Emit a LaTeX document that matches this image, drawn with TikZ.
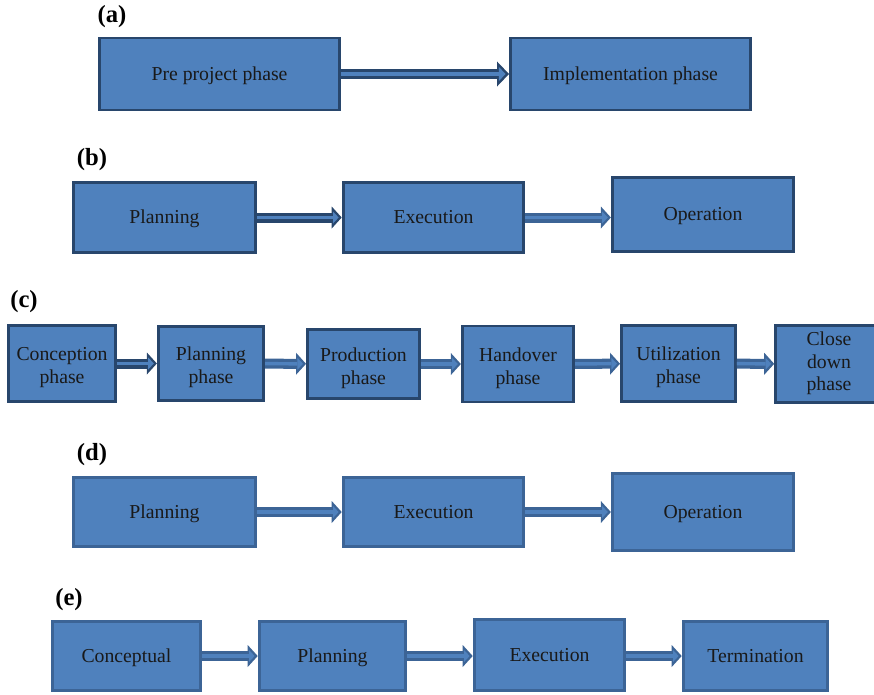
\documentclass[tikz,border=0pt]{standalone}
\usepackage{fontspec}
\setmainfont{Liberation Serif}
\usetikzlibrary{arrows.meta,positioning}

\definecolor{boxfill}{RGB}{79,129,189}
\definecolor{edgedark}{RGB}{40,70,108}
\definecolor{edgelight}{RGB}{60,100,150}

\begin{document}
\begin{tikzpicture}[
  x=0.75pt,y=-0.75pt,
  font=\fontsize{14.8}{17}\selectfont,
  box/.style={draw=edgedark,fill=boxfill,line width=2.2pt,inner sep=2pt,align=center,text=black!90,
    text height=10.4pt,text depth=1pt},
  boxl/.style={box,draw=edgelight},
  two/.style={text height=30pt,text depth=0pt},
  three/.style={text height=40pt,text depth=0pt},
  lab/.style={font=\fontsize{18.5}{20}\selectfont\bfseries},
  arr/.style={draw=edgedark,line width=7.5pt,-{Triangle[length=7.5pt,width=16.5pt,line width=0pt]},
    postaction={draw=boxfill,line width=2.6pt,-{Triangle[length=4.2pt,width=9pt,line width=0pt]},shorten >=2.3pt}},
  arrl/.style={arr,draw=edgelight},
  arrbig/.style={draw=edgedark,line width=7.5pt,-{Triangle[length=9pt,width=18.75pt,line width=0pt]},
    postaction={draw=boxfill,line width=3pt,-{Triangle[length=5pt,width=10.5pt,line width=0pt]},shorten >=2.6pt}}]

 \useasboundingbox (0,0) rectangle (874,694);

 % ---- (a) ----
 \node[lab] (la) at (112,17) {(a)};
 \node[box,minimum width=180pt,minimum height=54pt] (a1) at (219.5,74) {Pre project phase};
 \node[box,minimum width=180pt,minimum height=54pt] (a2) at (630.5,74) {Implementation phase};
 \draw[arrbig] (a1) -- (a2);

 % ---- (b) ----
 \node[lab] (lb) at (92,160) {(b)};
 \node[box,minimum width=137pt,minimum height=52pt] (b1) at (164.5,217.5) {Planning};
 \node[box,minimum width=135.5pt,minimum height=52pt] (b2) at (433.5,217.5) {Execution};
 \node[box,minimum width=136pt,minimum height=56pt] (b3) at (703,214.5) {Operation};
 \draw[arr] (b1) -- (b2);
 \draw[arrl] (b2.east) -- (b2.east -| b3.west);

 % ---- (c) ----
 \node[lab] (lc) at (24,302) {(c)};
 \node[box,two,minimum width=80.5pt,minimum height=57.5pt] (c1) at (62,363.5) {Conception\\phase};
 \node[box,two,minimum width=79pt,minimum height=56pt] (c2) at (211,363.5) {Planning\\phase};
 \node[box,two,minimum width=84pt,minimum height=52pt] (c3) at (363.5,364) {Production\\phase};
 \node[box,two,minimum width=83.5pt,minimum height=57pt] (c4) at (518,364) {Handover\\phase};
 \node[box,two,minimum width=85.5pt,minimum height=57.5pt] (c5) at (678.5,363.5) {Utilization\\phase};
 \node[box,three,minimum width=80pt,minimum height=57.5pt] (c6) at (829,364) {Close\\down\\phase};
 \draw[arr] (c1) -- (c2);
 \draw[arrl] (c2) -- (c3);
 \draw[arrl] (c3) -- (c4);
 \draw[arrl] (c4) -- (c5);
 \draw[arrl] (c5) -- (c6);

 % ---- (d) ----
 \node[lab] (ld) at (92,455) {(d)};
 \node[boxl,minimum width=137pt,minimum height=52pt] (d1) at (164.5,512) {Planning};
 \node[boxl,minimum width=135.5pt,minimum height=52pt] (d2) at (433.5,512) {Execution};
 \node[boxl,minimum width=136pt,minimum height=58pt] (d3) at (703,512) {Operation};
 \draw[arrl] (d1) -- (d2);
 \draw[arrl] (d2) -- (d3);

 % ---- (e) ----
 \node[lab] (le) at (69,600) {(e)};
 \node[boxl,minimum width=111.5pt,minimum height=52pt] (e1) at (126.5,656) {Conceptual};
 \node[boxl,minimum width=110pt,minimum height=52pt] (e2) at (332.5,656) {Planning};
 \node[boxl,minimum width=113pt,minimum height=53.5pt] (e3) at (549.5,655) {Execution};
 \node[boxl,minimum width=108.5pt,minimum height=52pt] (e4) at (755.5,656) {Termination};
 \draw[arrl] (e1) -- (e2);
 \draw[arrl] (e2.east) -- (e2.east -| e3.west);
 \draw[arrl] (e3.east |- e4.west) -- (e4);
\end{tikzpicture}
\end{document}
